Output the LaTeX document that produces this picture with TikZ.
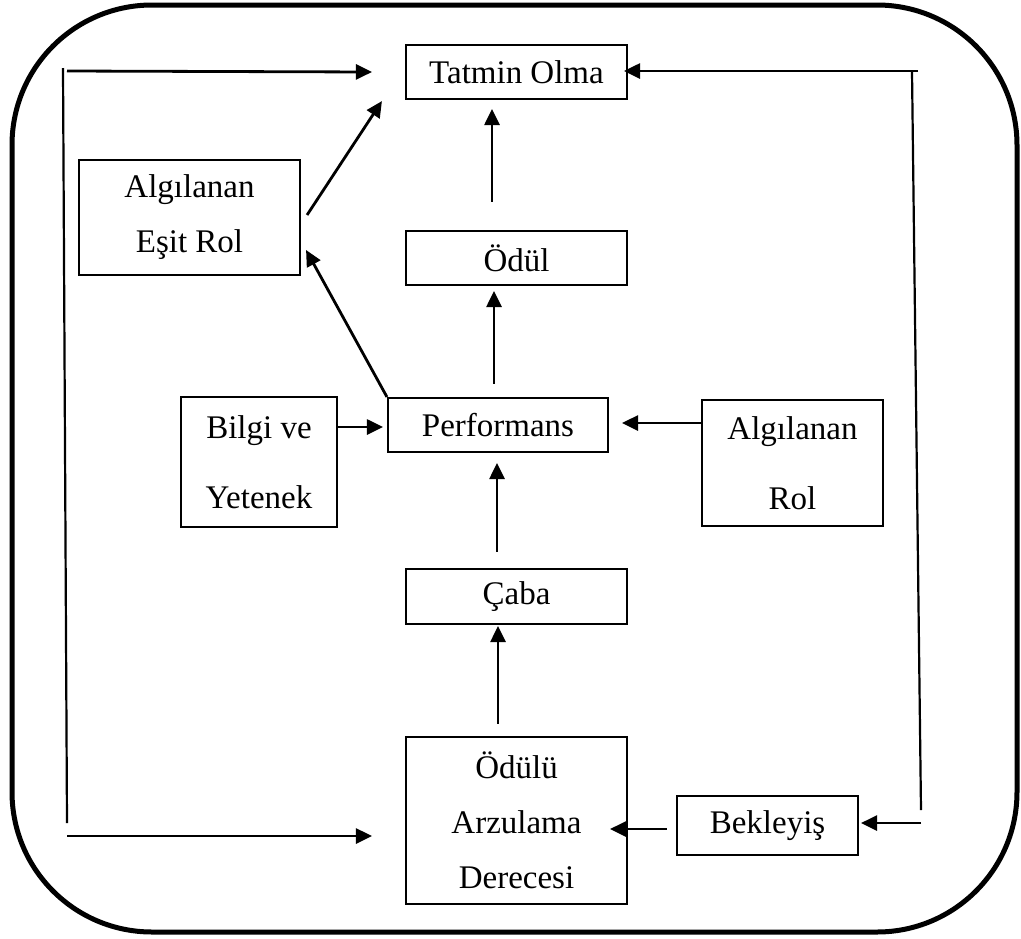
\documentclass[tikz,border=0pt]{standalone}
\usepackage{fontspec}
\setmainfont{Liberation Serif}
\usetikzlibrary{arrows.meta,calc}
\begin{document}
\begin{tikzpicture}[x=1pt,y=-1pt,
  box/.style={draw, line width=2.1pt, inner sep=0pt, align=center,
    font=\fontsize{33}{55}\selectfont},
  wide/.style={font=\fontsize{33}{70}\selectfont},
  arr/.style={line width=2.8pt, -{Triangle[length=16pt,width=15pt]}},
  ln/.style={line width=2.2pt}]
\useasboundingbox (0,0) rectangle (1021,938);

% outer frame
\draw[line width=5pt, rounded corners=140pt] (12,5) rectangle (1017,932);

% boxes
\node[box, minimum width=221pt, minimum height=54pt] (tatmin) at (516.5,72) {Tatmin Olma};
\node[box, minimum width=221pt, minimum height=115pt] (esit) at (189.5,217.5) {Algılanan\\Eşit Rol};
\node[box, minimum width=221pt, minimum height=54pt] (odul) at (516.5,258) {Ödül};
\node[box, minimum width=220pt, minimum height=54pt] (perf) at (498,425) {Performans};
\node[box, wide, minimum width=156pt, minimum height=130pt] (bilgi) at (259,462) {Bilgi ve\\Yetenek};
\node[box, wide, minimum width=181pt, minimum height=126pt] (arol) at (792.5,463) {Algılanan\\Rol};
\node[box, minimum width=221pt, minimum height=55pt] (caba) at (516.5,596.5) {Çaba};
\node[box, minimum width=221pt, minimum height=167pt] (arzu) at (516.5,820.5) {Ödülü\\Arzulama\\Derecesi};
\node[box, minimum width=181pt, minimum height=59pt] (bekl) at (767.5,825.5) {Bekleyiş};

% central chain
\draw[arr] ($(odul.north)+(-24.5,-28)$) -- ($(tatmin.south)+(-24.5,9)$);
\draw[arr] ($(perf.north)+(-4,-13)$) -- ($(odul.south)+(-22.5,5)$);
\draw[arr] ($(caba.north)+(-19.5,-16)$) -- ($(perf.south)+(-1,10)$);
\draw[arr] ($(arzu.north)+(-18.5,-12)$) -- ($(caba.south)+(-18.5,1)$);

% diagonal links
\draw[arr] (perf.north west) -- ($(esit.east)+(5,32.5)$);
\draw[arr] ($(esit.east)+(6,-2.5)$) -- ($(tatmin.south west)+(-23,1)$);

% side inputs
\draw[arr] ($(bilgi.east)+(0,-35)$) -- ($(perf.west)+(-4,2)$);
\draw[arr] ($(arol.west)+(0,-40)$) -- ($(perf.east)+(13,-2)$);
\draw[arr] ($(bekl.west)+(-9,3.5)$) -- ($(arzu.east)+(-18,8.5)$);

% left feedback loop
\coordinate (lt) at (63,68);
\coordinate (lb) at (67,823);
\coordinate (lta) at (67,71);
\coordinate (lba) at (67,836);
\draw[ln] (lt) -- (lb);
\draw[arr] (lta) -- ($(tatmin.west)+(-33,0)$);
\draw[arr] (lba) -- ($(arzu.west)+(-33,15.5)$);

% right feedback loop
\coordinate (rt) at (918,71);
\coordinate (rv) at (912,71);
\coordinate (rb) at (921,810);
\coordinate (rba) at (921,823);
\draw[ln] (rv) -- (rb);
\draw[arr] (rt) -- ($(tatmin.east)+(-4,-1)$);
\draw[arr] (rba) -- ($(bekl.east)+(2,-2.5)$);
\end{tikzpicture}
\end{document}
